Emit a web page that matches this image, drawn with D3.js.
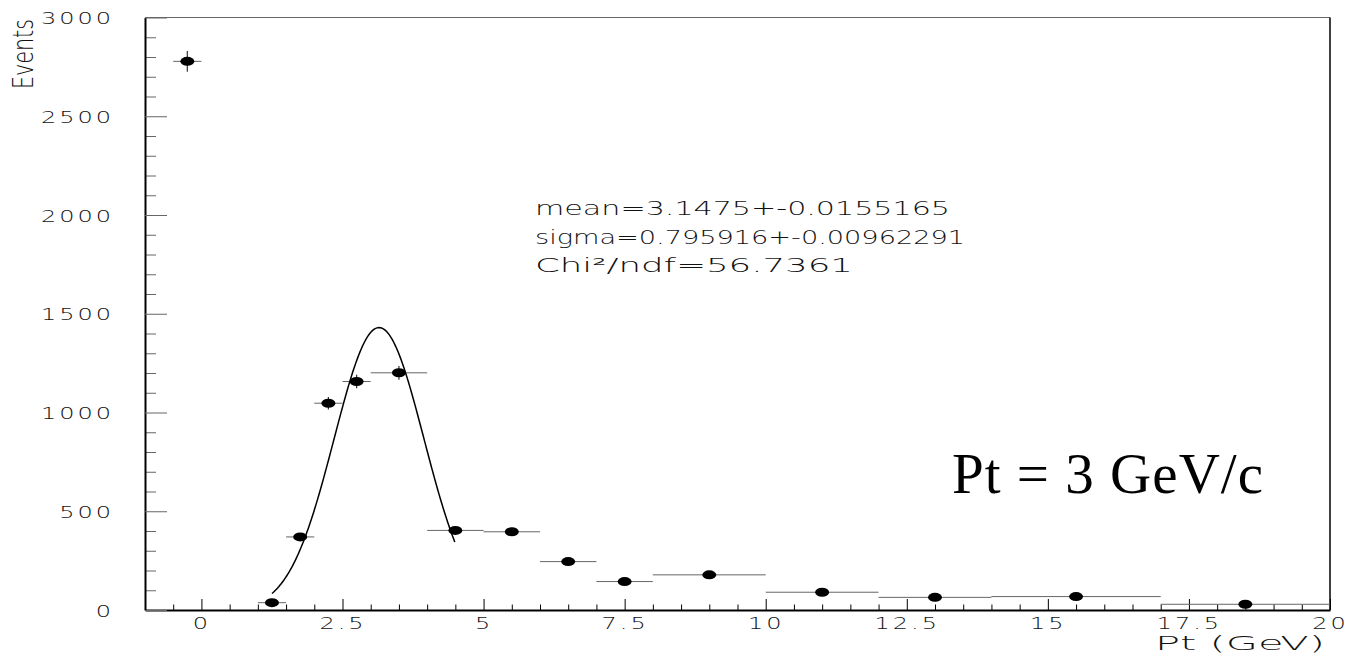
<!DOCTYPE html>
<html>
<head>
<meta charset="utf-8">
<script src="https://cdn.jsdelivr.net/npm/d3@7.9.0/dist/d3.min.js"></script>
<style>
  html, body { margin: 0; padding: 0; background: #fff; }
  svg { display: block; }
</style>
</head>
<body>
<div id="chart"></div>
<script>
// histogram bins (Pt in GeV) and contents
const binLow  = [-0.5, 1, 1.5, 2, 2.5, 3, 4, 5, 6, 7, 8, 10, 12, 14, 17];
const binHigh = [0, 1.5, 2, 2.5, 3, 4, 5, 6, 7, 8, 10, 12, 14, 17, 20];
const counts  = [2778, 37, 370, 1047, 1157, 1201, 403, 396, 245, 144, 178, 90, 64, 68, 29];
const errors  = [53, 6, 19, 32, 34, 35, 20, 20, 16, 12, 13, 9.5, 8, 8, 5.4];

// gaussian fit (parameters from the stats box)
const fitAmp = 1430;
const fitMean = 3.1475;
const fitSigma = 0.795916;
const fitRange = [1.25, 4.5];

const statLines = [
    "mean=3.1475+-0.0155165",
    "sigma=0.795916+-0.00962291",
    "Chi\u00b2/ndf=56.7361"
];

const xMajorTicks = [0, 2.5, 5, 7.5, 10, 12.5, 15, 17.5, 20];
const yMajorTicks = [0, 500, 1000, 1500, 2000, 2500, 3000];

const width = 1365;
const height = 663;
const plot = { left: 145, right: 1330, top: 17.5, bottom: 610 };

const svg = d3.select("#chart").append("svg")
    .attr("width", width)
    .attr("height", height);

const x = d3.scaleLinear().domain([-1, 20]).range([plot.left, plot.right]);
const y = d3.scaleLinear().domain([0, 3000]).range([plot.bottom, plot.top]);

const font = "'DejaVu Sans', 'Liberation Sans', sans-serif";
const textCol = "#111";

// frame
svg.append("line")
    .attr("x1", plot.left).attr("x2", plot.right)
    .attr("y1", plot.top).attr("y2", plot.top)
    .attr("stroke", "#666").attr("stroke-width", 1);
svg.append("line")
    .attr("x1", plot.right).attr("x2", plot.right)
    .attr("y1", plot.top).attr("y2", plot.bottom)
    .attr("stroke", "#000").attr("stroke-width", 1.5);

// minor ticks
const xMinor = d3.range(-1, 20.01, 0.5).filter(v => !xMajorTicks.includes(v));
svg.append("g")
    .attr("transform", `translate(0,${plot.bottom})`)
    .call(d3.axisBottom(x).tickValues(xMinor).tickSize(-5.5).tickFormat(""))
    .call(g => g.select(".domain").remove())
    .call(g => g.selectAll("line").attr("stroke", "#000"));

const yMinor = d3.range(0, 3001, 100).filter(v => !yMajorTicks.includes(v));
svg.append("g")
    .attr("transform", `translate(${plot.left},0)`)
    .call(d3.axisLeft(y).tickValues(yMinor).tickSize(-11).tickFormat(""))
    .call(g => g.select(".domain").remove())
    .call(g => g.selectAll("line").attr("stroke", "#666"));

// major ticks + labels
const xAxis = svg.append("g")
    .attr("transform", `translate(0,${plot.bottom})`)
    .call(d3.axisBottom(x).tickValues(xMajorTicks).tickSize(-11).tickSizeOuter(0)
        .tickFormat(d => String(d)));
xAxis.select(".domain").attr("stroke", "#000").attr("stroke-width", 2);
xAxis.selectAll("line").attr("stroke", "#000");
xAxis.selectAll("text")
    .attr("x", null).attr("y", null).attr("dy", null)
    .attr("transform", "translate(0,19) scale(1.5,1)")
    .attr("font-family", font).attr("font-weight", 200).attr("font-size", 16)
    .attr("letter-spacing", 2)
    .attr("fill", textCol);

const yAxis = svg.append("g")
    .attr("transform", `translate(${plot.left},0)`)
    .call(d3.axisLeft(y).tickValues(yMajorTicks).tickSize(-22).tickSizeOuter(0)
        .tickFormat(d => String(d)));
yAxis.select(".domain").attr("stroke", "#000").attr("stroke-width", 2);
yAxis.selectAll("line").attr("stroke", "#666");
yAxis.selectAll("text")
    .attr("x", null).attr("dy", null)
    .attr("transform", "translate(-31,6) scale(1.5,1)")
    .attr("font-family", font).attr("font-weight", 200).attr("font-size", 16)
    .attr("letter-spacing", 2)
    .attr("fill", textCol);

// axis titles
svg.append("text")
    .attr("x", 1325).attr("y", 650)
    .attr("text-anchor", "end")
    .attr("font-family", font).attr("font-weight", 200).attr("font-size", 19)
    .attr("fill", textCol)
    .attr("textLength", 170).attr("lengthAdjust", "spacingAndGlyphs")
    .text("Pt (GeV)");

svg.append("text")
    .attr("transform", "translate(33,89) rotate(-90)")
    .attr("text-anchor", "start")
    .attr("font-family", font).attr("font-weight", 200).attr("font-size", 28)
    .attr("fill", textCol)
    .attr("textLength", 70).attr("lengthAdjust", "spacingAndGlyphs")
    .text("Events");

// error bars
const bins = counts.map((c, i) => ({
    lo: binLow[i], hi: binHigh[i], mid: (binLow[i] + binHigh[i]) / 2, c: c, e: errors[i]
}));

const bars = svg.append("g");
bars.selectAll("line.h").data(bins).join("line")
    .attr("class", "h")
    .attr("x1", d => x(d.lo)).attr("x2", d => x(d.hi))
    .attr("y1", d => y(d.c)).attr("y2", d => y(d.c))
    .attr("stroke", "#666").attr("stroke-width", 1);
bars.selectAll("line.v").data(bins).join("line")
    .attr("class", "v")
    .attr("x1", d => x(d.mid)).attr("x2", d => x(d.mid))
    .attr("y1", d => y(d.c - d.e)).attr("y2", d => y(d.c + d.e))
    .attr("stroke", "#333").attr("stroke-width", 1.2);

// fit curve
const fitPts = d3.range(fitRange[0], fitRange[1] + 1e-9, 0.02)
    .map(v => [v, fitAmp * Math.exp(-((v - fitMean) ** 2) / (2 * fitSigma * fitSigma))]);
svg.append("path")
    .datum(fitPts)
    .attr("fill", "none")
    .attr("stroke", "#000")
    .attr("stroke-width", 1.5)
    .attr("d", d3.line().x(d => x(d[0])).y(d => y(d[1])));

// markers
svg.append("g").selectAll("ellipse").data(bins).join("ellipse")
    .attr("cx", d => x(d.mid)).attr("cy", d => y(d.c))
    .attr("rx", 7).attr("ry", 4.5)
    .attr("fill", "#000");

// stats text
const statWidths = [415, 430, 318];
svg.append("g").selectAll("text").data(statLines).join("text")
    .attr("x", 535)
    .attr("y", (d, i) => 215 + i * 28.5)
    .attr("font-family", font).attr("font-weight", 200).attr("font-size", 19.5)
    .attr("fill", textCol)
    .attr("textLength", (d, i) => statWidths[i]).attr("lengthAdjust", "spacingAndGlyphs")
    .text(d => d);

// label
svg.append("text")
    .attr("x", 952).attr("y", 493)
    .attr("font-family", "'Liberation Serif', 'DejaVu Serif', serif")
    .attr("font-size", 57)
    .attr("fill", "#000")
    .attr("textLength", 311).attr("lengthAdjust", "spacing")
    .text("Pt = 3 GeV/c");
</script>
</body>
</html>
